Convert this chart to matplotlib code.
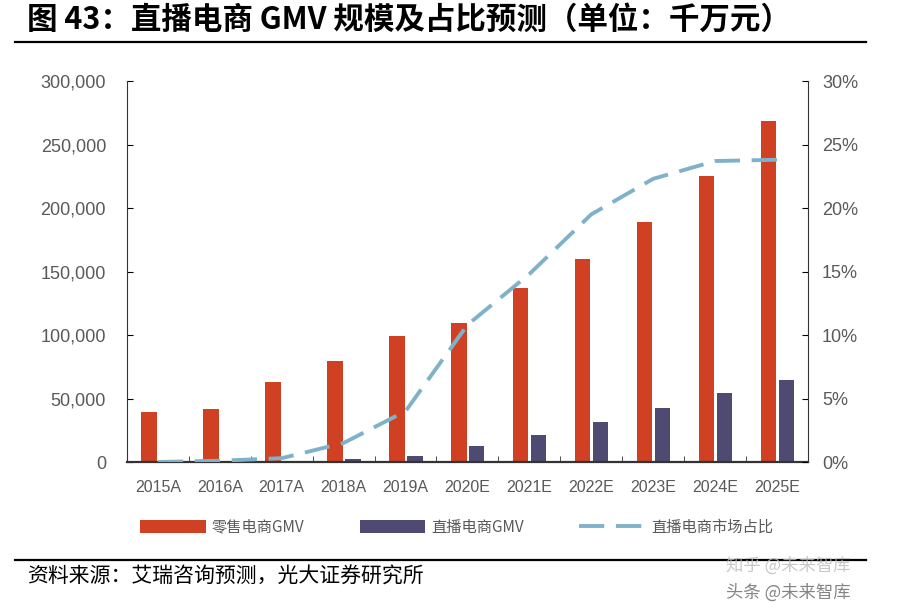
import matplotlib
matplotlib.use("Agg")
import matplotlib.pyplot as plt
from matplotlib.ticker import FuncFormatter, MultipleLocator
import numpy as np

plt.rcParams['font.family'] = ['Liberation Sans', 'Noto Sans CJK SC', 'DejaVu Sans']

years = ["2015A", "2016A", "2017A", "2018A", "2019A", "2020E",
         "2021E", "2022E", "2023E", "2024E", "2025E"]
retail_gmv = [39000, 41500, 62700, 79500, 99500, 109500,
              137000, 160000, 189000, 225000, 268500]
live_gmv = [0, 0, 800, 2000, 4700, 12800,
            21000, 31500, 42700, 54000, 64500]
live_share = [0.0, 0.1, 0.3, 1.5, 4.0, 10.8,
              14.8, 19.5, 22.3, 23.7, 23.8]

red = "#CF4122"
navy = "#4E4A72"
blue = "#7FB2CA"
grey = "#595959"

fig = plt.figure(figsize=(9.13, 6.10), dpi=100)
ax = fig.add_axes([0.139, 0.2426, 0.746, 0.6246])

x = np.arange(len(years))
w = 0.25
ax.bar(x - 0.14, retail_gmv, w, color=red, label="零售电商GMV")
ax.bar(x + 0.15, live_gmv, w, color=navy, label="直播电商GMV")

ax.set_xlim(-0.5, len(years) - 0.5)
ax.set_ylim(0, 300000)
ax.yaxis.set_major_locator(MultipleLocator(50000))
ax.yaxis.set_major_formatter(FuncFormatter(lambda v, p: f"{int(v):,}"))
ax.set_xticks(x)
ax.set_xticklabels(years)
ax.set_xticks(np.arange(len(years) + 1) - 0.5, minor=True)
ax.tick_params(axis='x', which='major', length=0, pad=13, labelsize=11.5, colors=grey)
ax.tick_params(axis='x', which='minor', direction='in', length=4, color='#333333')
ax.tick_params(axis='y', direction='in', length=4, pad=15, labelsize=13, labelcolor=grey)
for s in ['top', 'right']:
    ax.spines[s].set_visible(False)
ax.spines['left'].set_color('#333333')
ax.spines['bottom'].set_color('#333333')
ax.spines['bottom'].set_linewidth(1.6)

ax2 = ax.twinx()
ax2.plot(x, live_share, color=blue, lw=2.8, dashes=(6.5, 3), label="直播电商市场占比")
ax2.set_ylim(0, 30)
ax2.yaxis.set_major_locator(MultipleLocator(5))
ax2.yaxis.set_major_formatter(FuncFormatter(lambda v, p: f"{int(v)}%"))
ax2.tick_params(axis='y', direction='in', length=4, pad=10, labelsize=13, labelcolor=grey)
for s in ['top', 'left', 'bottom']:
    ax2.spines[s].set_visible(False)
ax2.spines['right'].set_color('#333333')

h1, l1 = ax.get_legend_handles_labels()
h2, l2 = ax2.get_legend_handles_labels()
leg = fig.legend(h1 + h2, l1 + l2, loc='center', bbox_to_anchor=(0.5, 0.136),
                 ncol=3, frameon=False, handlelength=4.3, handleheight=0.9,
                 columnspacing=3.6, handletextpad=0.4,
                 prop={'family': ['Noto Sans CJK SC'], 'size': 11})
for t in leg.get_texts():
    t.set_color(grey)

# title and rules
fig.text(0.03, 0.968, "图 43：直播电商 GMV 规模及占比预测（单位：千万元）",
         family=['Noto Sans CJK SC'], fontsize=22, fontweight='bold',
         va='center', ha='left')
fig.add_artist(plt.Line2D([0.016, 0.948], [0.931, 0.931], color='black', lw=1.6))
fig.add_artist(plt.Line2D([0.016, 0.948], [0.082, 0.082], color='black', lw=1.6))
fig.text(0.03, 0.054, "资料来源：艾瑞咨询预测，光大证券研究所",
         family=['Noto Sans CJK SC'], fontsize=15, va='center', ha='left')

# watermarks
fig.text(0.795, 0.072, "知乎 @未来智库", family=['Noto Sans CJK SC'],
         fontsize=12.5, color='#bbbbbb', alpha=0.8, va='center', ha='left')
fig.text(0.795, 0.028, "头条 @未来智库", family=['Noto Sans CJK SC'],
         fontsize=12.5, color='#333333', alpha=0.6, va='center', ha='left')

fig.savefig("out.png", dpi=100)
